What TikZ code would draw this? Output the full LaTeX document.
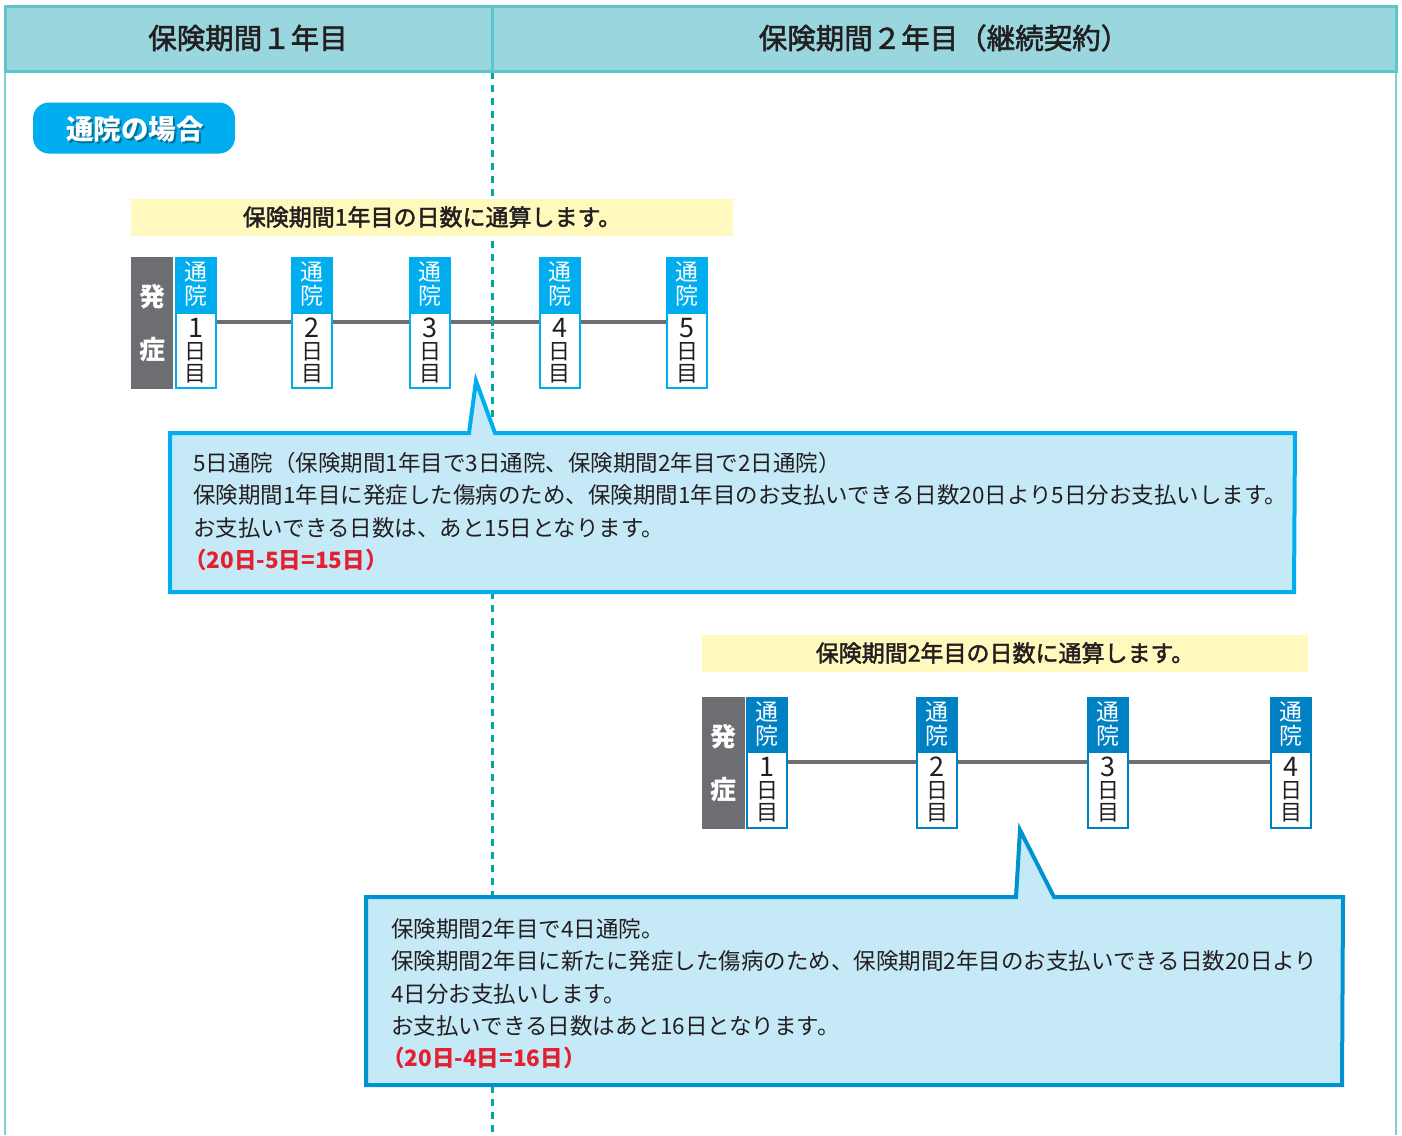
\documentclass[tikz,border=0pt]{standalone}
\usepackage{fontspec}
\setmainfont{Noto Sans CJK JP}
\newfontfamily\jpmed[FakeBold=2]{Noto Sans CJK JP}
\usetikzlibrary{calc}
\definecolor{hdfill}{RGB}{153,214,221}
\definecolor{hdline}{RGB}{93,198,204}
\definecolor{frameline}{RGB}{126,208,214}
\definecolor{dashteal}{RGB}{0,169,157}
\definecolor{pillblue}{RGB}{0,174,239}
\definecolor{bandyellow}{RGB}{255,249,190}
\definecolor{boxgray}{RGB}{109,110,113}
\definecolor{cyanbadge}{RGB}{0,174,239}
\definecolor{bluebadge}{RGB}{0,129,196}
\definecolor{callfill}{RGB}{198,233,248}
\definecolor{callcyan}{RGB}{0,174,239}
\definecolor{callblue}{RGB}{0,147,208}
\definecolor{alert}{RGB}{229,32,46}
\definecolor{ink}{RGB}{35,31,32}
\setlength{\lineskiplimit}{-30pt}
\tikzset{
  hdtext/.style={font=\jpmed\fontsize{28.5}{30}\selectfont, text=ink, inner sep=0},
  bandbox/.style={fill=bandyellow, minimum width=602, minimum height=37, inner sep=0,
    font=\jpmed\fontsize{23}{24}\selectfont, text=ink},
  graybox/.style={fill=boxgray, minimum width=42, minimum height=132, anchor=north, inner sep=0,
    text=white, align=center, font=\bfseries\fontsize{26}{53}\selectfont},
  badgetop/.style={minimum width=42, anchor=north, inner sep=0, outer sep=0, text=white, align=center,
    font=\fontsize{23}{24}\selectfont},
  badgebot/.style={draw, line width=2pt, fill=white, minimum width=40, anchor=north, inner sep=0,
    text=ink, align=center, font=\fontsize{22}{22}\selectfont},
  tline/.style={draw=boxgray, line width=4pt},
  callout/.style={fill=callfill, line width=4pt, line join=miter},
  calltext/.style={anchor=north west, inner sep=0, align=left, text=ink,
    font=\fontsize{22.5}{32.4}\selectfont},
}
\newcommand{\mkbadge}[7]{%
  \node[badgetop, fill=#7, minimum height=#4] (#1t) at (#2,#3) {通\\院};
  \node[badgebot, draw=#7, minimum height=#5-2] (#1b) at (#1t.south) {{\fontsize{27}{22}\selectfont #6}\\日\\目};
}
\begin{document}
\begin{tikzpicture}[x=1pt,y=-1pt]
\useasboundingbox (0,0) rectangle (1402,1135);
\fill[white] (0,0) rectangle (1402,1135);
% frame sides
\draw[frameline, line width=2.5pt] (5,71) -- (5,1135);
\draw[frameline, line width=2.5pt] (1396,71) -- (1396,1135);
% dashed period divider
\draw[dashteal, line width=3pt, dash pattern=on 7pt off 6pt] (492,72) -- (492,1135);
% header
\fill[hdfill] (5,6) rectangle (1396,71);
\draw[hdline, line width=3pt] (5,6) rectangle (1396,71);
\draw[hdline, line width=3pt] (492,6) -- (492,71);
\node[hdtext] (h1) at (248,38) {保険期間１年目};
\node[hdtext] (h2) at (944,38) {保険期間２年目（継続契約）};
% pill
\node[fill=pillblue, rounded corners=16pt, minimum width=202, minimum height=51, inner sep=0] (pill) at (134,128) {};
\node[text=black, opacity=0.35, inner sep=0, font=\bfseries\fontsize{27.5}{28}\selectfont] (pillsh) at (137,131) {通院の場合};
\node[text=white, inner sep=0, font=\bfseries\fontsize{27.5}{28}\selectfont] (pilltx) at (135,129) {通院の場合};

% ===== timeline 1 =====
\node[bandbox] (band1) at (432,217) {保険期間1年目の日数に通算します。};
\node[graybox] (g1) at (152,257) {発\\症};
\mkbadge{a1}{195.5}{257}{55}{77}{1}{cyanbadge}
\mkbadge{a2}{312}{257}{55}{77}{2}{cyanbadge}
\mkbadge{a3}{430}{257}{55}{77}{3}{cyanbadge}
\mkbadge{a4}{559.5}{257}{55}{77}{4}{cyanbadge}
\mkbadge{a5}{687}{257}{55}{77}{5}{cyanbadge}
\draw[tline] ([yshift=-10pt]a1b.north east) -- ([yshift=-10pt]a2b.north west);
\draw[tline] ([yshift=-10pt]a2b.north east) -- ([yshift=-10pt]a3b.north west);
\draw[tline] ([yshift=-10pt]a3b.north east) -- ([yshift=-10pt]a4b.north west);
\draw[tline] ([yshift=-10pt]a4b.north east) -- ([yshift=-10pt]a5b.north west);
\draw[dashteal, line width=3pt, dash pattern=on 7pt off 6pt] (492,316) -- (492,330);

% callout 1
\coordinate (tip1) at (476,381);
\path[callout, draw=callcyan] (170,433) -- (469,433) -- (tip1) -- (495,433) -- (1295,433) -- (1294,592) -- (170,592) -- cycle;
\node[calltext] (c1t) at (193,452) {5日通院（保険期間1年目で3日通院、保険期間2年目で2日通院）\\
保険期間1年目に発症した傷病のため、保険期間1年目のお支払いできる日数20日より5日分お支払いします。\\
お支払いできる日数は、あと15日となります。\\
{\color{alert}\bfseries\kern-0.4em（20日-5日=15日）}};

% ===== timeline 2 =====
\node[bandbox, minimum width=606] (band2) at (1005,653) {保険期間2年目の日数に通算します。};
\node[graybox, minimum width=43] (g2) at (723.5,697) {発\\症};
\mkbadge{b1}{767}{697}{54}{78}{1}{bluebadge}
\mkbadge{b2}{937}{697}{54}{78}{2}{bluebadge}
\mkbadge{b3}{1108}{697}{54}{78}{3}{bluebadge}
\mkbadge{b4}{1291}{697}{54}{78}{4}{bluebadge}
\draw[tline] ([yshift=-11pt]b1b.north east) -- ([yshift=-11pt]b2b.north west);
\draw[tline] ([yshift=-11pt]b2b.north east) -- ([yshift=-11pt]b3b.north west);
\draw[tline] ([yshift=-11pt]b3b.north east) -- ([yshift=-11pt]b4b.north west);

% callout 2
\coordinate (tip2) at (1020,830);
\path[callout, draw=callblue] (366,897) -- (1016,897) -- (tip2) -- (1054,897) -- (1343,897) -- (1342,1085) -- (366,1085) -- cycle;
\node[calltext] (c2t) at (391,918) {保険期間2年目で4日通院。\\
保険期間2年目に新たに発症した傷病のため、保険期間2年目のお支払いできる日数20日より\\
4日分お支払いします。\\
お支払いできる日数はあと16日となります。\\
{\color{alert}\bfseries\kern-0.4em（20日-4日=16日）}};
\end{tikzpicture}
\end{document}
